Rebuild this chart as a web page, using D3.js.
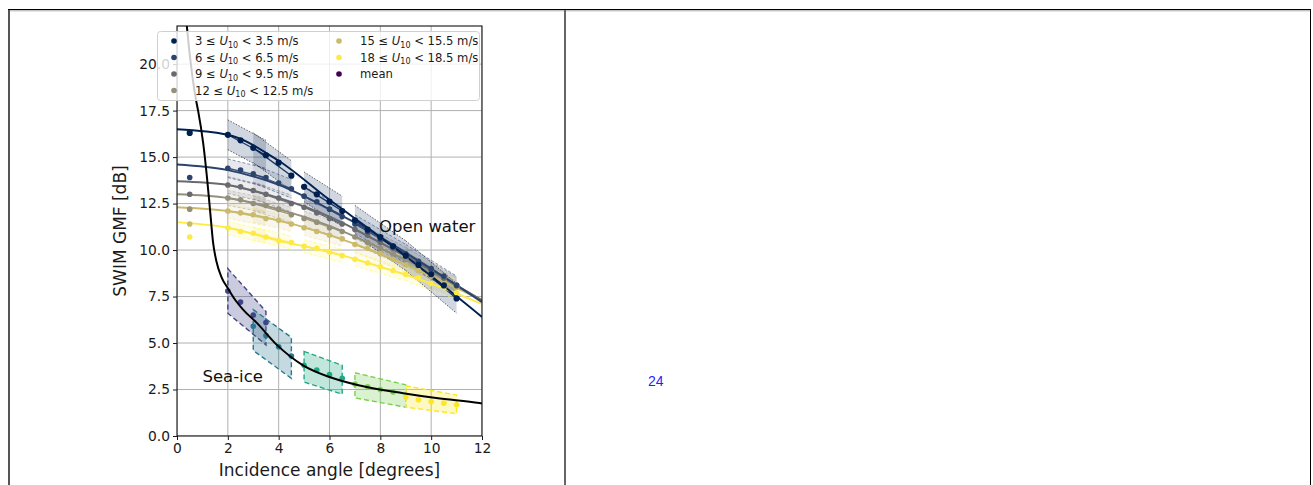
<!DOCTYPE html>
<html>
<head>
<meta charset="utf-8">
<script src="https://cdn.jsdelivr.net/npm/d3@7"></script>
<style>
  body { margin: 0; background: #fff; }
  svg { display: block; }
</style>
</head>
<body>
<svg id="page" width="1313" height="485"></svg>
<script>
// ----------------------------
// DATA
// ----------------------------
const windLow = [3, 6, 9, 12, 15, 18];
const windHigh = [3.5, 6.5, 9.5, 12.5, 15.5, 18.5];

// fitted open-water GMF curves, sampled at curveAngles
const curveAngles = [0, 2, 4, 6, 8, 10, 12];
const owCurve3  = [16.5, 16.2, 14.8, 12.7, 10.7, 8.6, 6.4];
const owCurve6  = [14.6, 14.3, 13.5, 12.2, 10.7, 9.0, 7.2];
const owCurve9  = [13.7, 13.5, 12.8, 11.8, 10.4, 8.9, 7.3];
const owCurve12 = [13.0, 12.8, 12.2, 11.3, 10.1, 8.8, 7.3];
const owCurve15 = [12.3, 12.1, 11.6, 10.8, 9.8, 8.6, 7.3];
const owCurve18 = [11.5, 11.2, 10.5, 9.9, 9.1, 8.2, 7.1];

// binned open-water means
const dotAngles = [0.5, 2, 2.5, 3, 3.5, 4, 4.5, 5, 5.5, 6, 6.5, 7, 7.5, 8, 8.5, 9, 9.5, 10, 10.5, 11];
const owDots3  = [16.3, 16.2, 15.9, 15.5, 15.1, 14.7, 14.0, 13.4, 13.0, 12.6, 12.1, 11.6, 11.1, 10.7, 10.2, 9.7, 9.2, 8.7, 8.1, 7.4];
const owDots6  = [13.9, 14.4, 14.3, 14.1, 13.9, 13.6, 13.3, 12.9, 12.6, 12.2, 11.8, 11.4, 11.0, 10.6, 10.2, 9.8, 9.4, 9.0, 8.6, 8.1];
const owDots9  = [13.0, 13.5, 13.4, 13.2, 13.0, 12.8, 12.5, 12.3, 12.0, 11.7, 11.4, 11.1, 10.8, 10.4, 10.1, 9.7, 9.3, 8.9, 8.5, 8.1];
const owDots12 = [12.2, 12.8, 12.7, 12.5, 12.4, 12.2, 11.9, 11.7, 11.5, 11.2, 11.0, 10.7, 10.4, 10.1, 9.8, 9.5, 9.2, 8.8, 8.5, 8.1];
const owDots15 = [11.4, 12.1, 12.0, 11.9, 11.7, 11.6, 11.4, 11.2, 11.0, 10.8, 10.6, 10.3, 10.1, 9.8, 9.5, 9.2, 8.9, 8.6, 8.3, 8.0];
const owDots18 = [10.7, 11.2, 11.0, 10.9, 10.7, 10.5, 10.4, 10.2, 10.1, 9.9, 9.7, 9.5, 9.3, 9.1, 8.9, 8.7, 8.5, 8.2, 8.0, 7.7];

// angle bins and spread of the open-water bands
const bins = [[2, 3.5], [3, 4.5], [5, 6.5], [7, 9], [9, 11]];
const owSpread = [0.8, 0.5, 0.45, 0.4, 0.4, 0.35];

// sea-ice fit
const iceFitAngle = [0.3, 0.39, 0.6, 0.75, 0.83, 1.03, 1.18, 1.3, 1.42, 1.55, 1.75, 2.0, 2.3, 2.6, 3.15, 3.93, 4.96, 6.0, 7.1, 8.9, 10.2, 11.9, 12];
const iceFitValue = [23.5, 22.0, 19.4, 18.06, 17.5, 15.75, 13.9, 12.15, 10.4, 9.4, 8.55, 7.95, 7.3, 6.8, 6.07, 4.9, 3.8, 3.17, 2.74, 2.3, 2.04, 1.77, 1.75];

// sea-ice bands per bin: [upper at start, upper at end], [lower at start, lower at end]
const iceBandHi = [[9.0, 6.7], [6.8, 5.3], [4.55, 3.8], [3.4, 2.75], [2.7, 2.2]];
const iceBandLo = [[6.6, 4.9], [4.6, 3.1], [2.9, 2.25], [2.05, 1.55], [1.55, 1.2]];

// sea-ice binned means per bin
const iceDotAngles = [[2, 2.5, 3, 3.5], [3, 3.5, 4, 4.5], [5, 5.5, 6, 6.5], [7, 7.5, 8, 8.5], [9, 9.5, 10, 10.5, 11]];
const iceDotValues = [[7.8, 7.2, 6.5, 6.1], [5.9, 5.4, 4.8, 4.3], [3.8, 3.55, 3.3, 3.1], [2.8, 2.65, 2.5, 2.37], [2.1, 1.95, 1.85, 1.77, 1.68]];

const xTicks = [0, 2, 4, 6, 8, 10, 12];
const yTicks = [0, 2.5, 5, 7.5, 10, 12.5, 15, 17.5, 20];

// ----------------------------
// SETUP
// ----------------------------
const owCurves = [owCurve3, owCurve6, owCurve9, owCurve12, owCurve15, owCurve18];
const owDots = [owDots3, owDots6, owDots9, owDots12, owDots15, owDots18];
const owColor = i => d3.interpolateCividis(i / 5);
const iceColor = i => d3.interpolateViridis((i + 1) / 5);
const meanColor = d3.interpolateViridis(0);

const font = "'DejaVu Sans', sans-serif";
const svg = d3.select("#page");

const x = d3.scaleLinear().domain([0, 12]).range([177, 482]);
const y = d3.scaleLinear().domain([0, 22.05]).range([436, 26]);

// ----------------------------
// PAGE BORDERS
// ----------------------------
svg.append("line").attr("x1", 8).attr("x2", 1311).attr("y1", 9.5).attr("y2", 9.5)
  .attr("stroke", "#000").attr("stroke-width", 1.2);
svg.append("line").attr("x1", 8).attr("x2", 1311).attr("y1", 10.8).attr("y2", 10.8)
  .attr("stroke", "#aaa").attr("stroke-width", 1);
[[9, "#555", 2], [565, "#666", 2], [1310.5, "#000", 1]].forEach(([bx, c, w]) => {
  svg.append("line").attr("x1", bx).attr("x2", bx).attr("y1", 10).attr("y2", 485)
    .attr("stroke", c).attr("stroke-width", w);
});

svg.append("text")
  .attr("x", 648).attr("y", 386)
  .attr("font-family", "'Liberation Sans', Arial, sans-serif")
  .attr("font-size", "14px")
  .attr("fill", "#1f1fff")
  .text("24");

// ----------------------------
// GRID + CLIP
// ----------------------------
svg.append("clipPath").attr("id", "plotclip")
  .append("rect").attr("x", 177).attr("y", 26).attr("width", 305).attr("height", 410);

const plot = svg.append("g").attr("clip-path", "url(#plotclip)");

const grid = plot.append("g").attr("stroke", "#b0b0b0").attr("stroke-width", 1);
xTicks.forEach(t => grid.append("line").attr("x1", x(t)).attr("x2", x(t)).attr("y1", 26).attr("y2", 436));
yTicks.forEach(t => grid.append("line").attr("x1", 177).attr("x2", 482).attr("y1", y(t)).attr("y2", y(t)));

// ----------------------------
// OPEN WATER BANDS
// ----------------------------
const dotAt = (arr, a) => arr[dotAngles.indexOf(a)];
const owBands = [];
owDots.forEach((dots, ci) => {
  bins.forEach(([a0, a1]) => {
    const c0 = dotAt(dots, a0), c1 = dotAt(dots, a1);
    const s = owSpread[ci];
    owBands.push({ ci, a0, a1, c0, c1, hi0: c0 + s, hi1: c1 + s, lo0: c0 - s, lo1: c1 - s });
  });
});

const bandPath = b => `M${x(b.a0)},${y(b.hi0)}L${x(b.a1)},${y(b.hi1)}L${x(b.a1)},${y(b.lo1)}L${x(b.a0)},${y(b.lo0)}Z`;

plot.append("g").selectAll("path")
  .data(owBands.slice().reverse())
  .join("path")
  .attr("d", bandPath)
  .attr("fill", d => owColor(d.ci))
  .attr("fill-opacity", d => d.ci === 0 ? 0.18 : 0.12)
  .attr("stroke", "none");

// ----------------------------
// SEA-ICE BANDS
// ----------------------------
const iceBands = bins.map(([a0, a1], i) => ({
  i, a0, a1, hi0: iceBandHi[i][0], hi1: iceBandHi[i][1], lo0: iceBandLo[i][0], lo1: iceBandLo[i][1]
}));

plot.append("g").selectAll("path")
  .data(iceBands)
  .join("path")
  .attr("d", bandPath)
  .attr("fill", d => iceColor(d.i))
  .attr("fill-opacity", 0.28)
  .attr("stroke", d => iceColor(d.i))
  .attr("stroke-width", 1.4)
  .attr("stroke-dasharray", "5,3");

// band edges + local means (open water)
const edges = plot.append("g");
owBands.slice().reverse().forEach(b => {
  const col = owColor(b.ci);
  [["hi0", "hi1"], ["lo0", "lo1"]].forEach(([k0, k1]) => {
    edges.append("line")
      .attr("x1", x(b.a0)).attr("x2", x(b.a1))
      .attr("y1", y(b[k0])).attr("y2", y(b[k1]))
      .attr("stroke", b.ci === 0 ? "#222" : d3.color(col).brighter(0.6))
      .attr("stroke-opacity", b.ci === 0 ? 0.7 : 0.6)
      .attr("stroke-width", 1)
      .attr("stroke-dasharray", b.ci === 0 ? "1.5,1.5" : "3,2");
  });
  edges.append("line")
    .attr("x1", x(b.a0)).attr("x2", x(b.a1))
    .attr("y1", y(b.c0)).attr("y2", y(b.c1))
    .attr("stroke", col).attr("stroke-width", 1.3).attr("stroke-opacity", 0.9);
});

// ----------------------------
// OPEN WATER CURVES + DOTS
// ----------------------------
const line = d3.line()
  .x(d => x(d[0]))
  .y(d => y(d[1]))
  .curve(d3.curveMonotoneX);

owCurves.slice().reverse().forEach((vals, ri) => {
  const ci = owCurves.length - 1 - ri;
  plot.append("path")
    .attr("d", line(curveAngles.map((a, j) => [a, vals[j]])))
    .attr("fill", "none")
    .attr("stroke", owColor(ci))
    .attr("stroke-width", 1.9);
});

owDots.slice().reverse().forEach((vals, ri) => {
  const ci = owDots.length - 1 - ri;
  plot.append("g").selectAll("circle")
    .data(dotAngles.map((a, j) => [a, vals[j]]))
    .join("circle")
    .attr("cx", d => x(d[0]))
    .attr("cy", d => y(d[1]))
    .attr("r", ci === 0 ? 3.1 : 2.8)
    .attr("fill", owColor(ci));
});

// ----------------------------
// SEA-ICE DOTS + FIT
// ----------------------------
iceDotAngles.forEach((angles, i) => {
  plot.append("g").selectAll("circle")
    .data(angles.map((a, j) => [a, iceDotValues[i][j]]))
    .join("circle")
    .attr("cx", d => x(d[0]))
    .attr("cy", d => y(d[1]))
    .attr("r", 2.8)
    .attr("fill", iceColor(i));
});

plot.append("path")
  .attr("d", line(iceFitAngle.map((a, j) => [a, iceFitValue[j]])))
  .attr("fill", "none")
  .attr("stroke", "#000")
  .attr("stroke-width", 2);

// ----------------------------
// LABELS IN PLOT
// ----------------------------
svg.append("text").attr("x", x(7.95)).attr("y", y(11.3) + 6)
  .attr("font-family", font).attr("font-size", "16.5px").attr("fill", "#111")
  .text("Open water");
svg.append("text").attr("x", x(1.0)).attr("y", y(3.25) + 6)
  .attr("font-family", font).attr("font-size", "16.5px").attr("fill", "#111")
  .text("Sea-ice");

// ----------------------------
// AXES
// ----------------------------
const xAxis = svg.append("g")
  .attr("transform", "translate(0,436)")
  .call(d3.axisBottom(x).tickValues(xTicks).tickSize(4).tickPadding(3).tickFormat(d3.format("d")));
const yAxis = svg.append("g")
  .attr("transform", "translate(177,0)")
  .call(d3.axisLeft(y).tickValues(yTicks).tickSize(4).tickPadding(3).tickFormat(d3.format(".1f")));

[xAxis, yAxis].forEach(ax => {
  ax.select(".domain").remove();
  ax.selectAll("text").attr("font-family", font).attr("font-size", "13.8px").attr("fill", "#1a1a1a");
  ax.selectAll("line").attr("stroke", "#1a1a1a");
});

svg.append("rect")
  .attr("x", 177).attr("y", 26).attr("width", 305).attr("height", 410)
  .attr("fill", "none").attr("stroke", "#111").attr("stroke-width", 1.1);

svg.append("text")
  .attr("x", 329.5).attr("y", 476)
  .attr("text-anchor", "middle")
  .attr("font-family", font).attr("font-size", "17px").attr("fill", "#1a1a1a")
  .text("Incidence angle [degrees]");

svg.append("text")
  .attr("transform", "translate(126,231) rotate(-90)")
  .attr("text-anchor", "middle")
  .attr("font-family", font).attr("font-size", "17px").attr("fill", "#1a1a1a")
  .text("SWIM GMF [dB]");

// ----------------------------
// LEGEND
// ----------------------------
const legend = svg.append("g");
legend.append("rect")
  .attr("x", 157.5).attr("y", 31.5).attr("width", 322).attr("height", 69)
  .attr("rx", 3)
  .attr("fill", "#fff").attr("fill-opacity", 0.8)
  .attr("stroke", "#d0d0d0");

const legendItems = windLow.map((lo, i) => ({ lo, hi: windHigh[i], color: owColor(i) }))
  .concat([{ mean: true, color: meanColor }]);

legendItems.forEach((d, i) => {
  const col = i < 4 ? 0 : 1;
  const row = i < 4 ? i : i - 4;
  const mx = col === 0 ? 174 : 339;
  const ty = 45 + row * 16.5;
  legend.append("circle").attr("cx", mx).attr("cy", ty - 4).attr("r", 2.8).attr("fill", d.color);
  const t = legend.append("text")
    .attr("x", mx + 21).attr("y", ty)
    .attr("font-family", font).attr("font-size", "11.6px").attr("fill", "#1a1a1a");
  if (d.mean) {
    t.text("mean");
  } else {
    t.append("tspan").text(`${d.lo} ≤ `);
    t.append("tspan").attr("font-style", "italic").text("U");
    t.append("tspan").attr("font-size", "8px").attr("dy", 2.5).text("10");
    t.append("tspan").attr("dy", -2.5).text(` < ${d.hi} m/s`);
  }
});
</script>
</body>
</html>
